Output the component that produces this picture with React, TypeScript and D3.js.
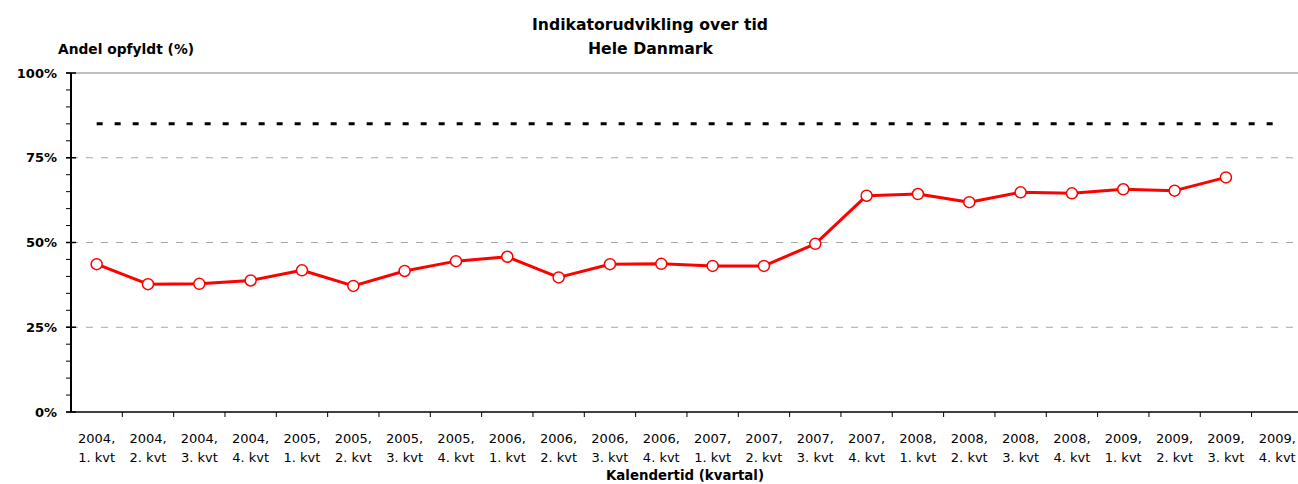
import React from "react";
import * as d3 from "d3";

const width = 1298;
const height = 484;

const margin = { top: 73, bottom: 72, left: 71 };
const bandStep = 51.33;

const yearLabels = [
    "2004,", "2004,", "2004,", "2004,",
    "2005,", "2005,", "2005,", "2005,",
    "2006,", "2006,", "2006,", "2006,",
    "2007,", "2007,", "2007,", "2007,",
    "2008,", "2008,", "2008,", "2008,",
    "2009,", "2009,", "2009,", "2009,",
];
const quarterLabels = [
    "1. kvt", "2. kvt", "3. kvt", "4. kvt",
    "1. kvt", "2. kvt", "3. kvt", "4. kvt",
    "1. kvt", "2. kvt", "3. kvt", "4. kvt",
    "1. kvt", "2. kvt", "3. kvt", "4. kvt",
    "1. kvt", "2. kvt", "3. kvt", "4. kvt",
    "1. kvt", "2. kvt", "3. kvt", "4. kvt",
];
const categories = yearLabels.map((y, i) => y + " " + quarterLabels[i]);

// andel opfyldt (%), sidste kvartal mangler
const values = [
    43.6, 37.7, 37.8, 38.8, 41.8, 37.2, 41.6, 44.5, 45.8, 39.7, 43.6, 43.7,
    43.1, 43.1, 49.6, 63.8, 64.3, 61.9, 64.8, 64.5, 65.7, 65.3, 69.2,
];
const target = 85;

const majorTicks = [0, 25, 50, 75, 100];
const tickLabels = ["0%", "25%", "50%", "75%", "100%"];
const minorTicks = d3.range(0, 101, 5);

const font = "'DejaVu Sans', Verdana, sans-serif";

const App = () => {
    const xScale = d3
        .scaleBand()
        .domain(categories)
        .range([margin.left, margin.left + bandStep * categories.length]);
    const yScale = d3
        .scaleLinear()
        .domain([0, 100])
        .range([height - margin.bottom - 0, margin.top]);
    const yBottom = yScale(0);
    const cx = (i: number) => xScale(categories[i])! + xScale.bandwidth() / 2;

    const line = d3
        .line<number>()
        .x((d, i) => cx(i))
        .y((d) => yScale(d));

    return (
        <svg
            width={width}
            height={height}
            style={{ position: "absolute", left: 0, top: 0, background: "white" }}
            fontFamily={font}
        >
            {/* titel */}
            <text x={650} y={30} textAnchor="middle" fontWeight="bold" fontSize={16}
                textLength={236} lengthAdjust="spacingAndGlyphs">
                Indikatorudvikling over tid
            </text>
            <text x={650.5} y={54} textAnchor="middle" fontWeight="bold" fontSize={16}
                textLength={125} lengthAdjust="spacingAndGlyphs">
                Hele Danmark
            </text>
            <text x={58} y={54} fontWeight="bold" fontSize={14}
                textLength={136} lengthAdjust="spacingAndGlyphs">
                Andel opfyldt (%)
            </text>

            {/* gitterlinjer */}
            {majorTicks.filter((t) => t > 0).map((t, i) => (
                <line
                    key={"g" + i}
                    x1={margin.left}
                    x2={width}
                    y1={yScale(t)}
                    y2={yScale(t)}
                    stroke={t === 100 ? "#808080" : "#a6a6a6"}
                    strokeWidth={1}
                    strokeDasharray={t === 100 ? undefined : "7 8"}
                />
            ))}

            {/* y-akse */}
            {minorTicks.map((t, i) => (
                <line key={"m" + i} x1={margin.left - 5} x2={margin.left}
                    y1={yScale(t)} y2={yScale(t)} stroke="black" strokeWidth={1} />
            ))}
            {majorTicks.map((t, i) => (
                <g key={"t" + i}>
                    <line x1={margin.left - 5} x2={margin.left + 5}
                        y1={yScale(t)} y2={yScale(t)} stroke="black" strokeWidth={1.5} />
                    <text x={57} y={yScale(t)} dy="0.36em" textAnchor="end"
                        fontWeight="bold" fontSize={13}>
                        {tickLabels[i]}
                    </text>
                </g>
            ))}
            <line x1={margin.left} x2={margin.left} y1={margin.top} y2={yBottom}
                stroke="black" strokeWidth={2} />

            {/* x-akse */}
            <line x1={margin.left} x2={width} y1={yBottom} y2={yBottom}
                stroke="black" strokeWidth={1.5} />
            {categories.map((c, i) => (
                <g key={"x" + i}>
                    <line x1={xScale(c)! + bandStep} x2={xScale(c)! + bandStep}
                        y1={yBottom} y2={yBottom + 5} stroke="black" strokeWidth={1} />
                    <text x={cx(i)} y={443} textAnchor="middle" fontSize={13}>
                        {yearLabels[i]}
                    </text>
                    <text x={cx(i)} y={462} textAnchor="middle" fontSize={13}>
                        {quarterLabels[i]}
                    </text>
                </g>
            ))}
            <text x={685} y={480} textAnchor="middle" fontWeight="bold" fontSize={14}
                textLength={158} lengthAdjust="spacingAndGlyphs">
                Kalendertid (kvartal)
            </text>

            {/* maal */}
            <line x1={cx(0)} x2={cx(categories.length - 1)}
                y1={yScale(target)} y2={yScale(target)}
                stroke="black" strokeWidth={3} strokeDasharray="6 12" />

            {/* serie */}
            <path d={line(values)!} fill="none" stroke="#ff0000" strokeWidth={3}
                strokeLinejoin="round" />
            {values.map((v, i) => (
                <circle key={"p" + i} cx={cx(i)} cy={yScale(v)} r={5.5}
                    fill="white" stroke="#ff0000" strokeWidth={1.5} />
            ))}
        </svg>
    );
};

export default App;
